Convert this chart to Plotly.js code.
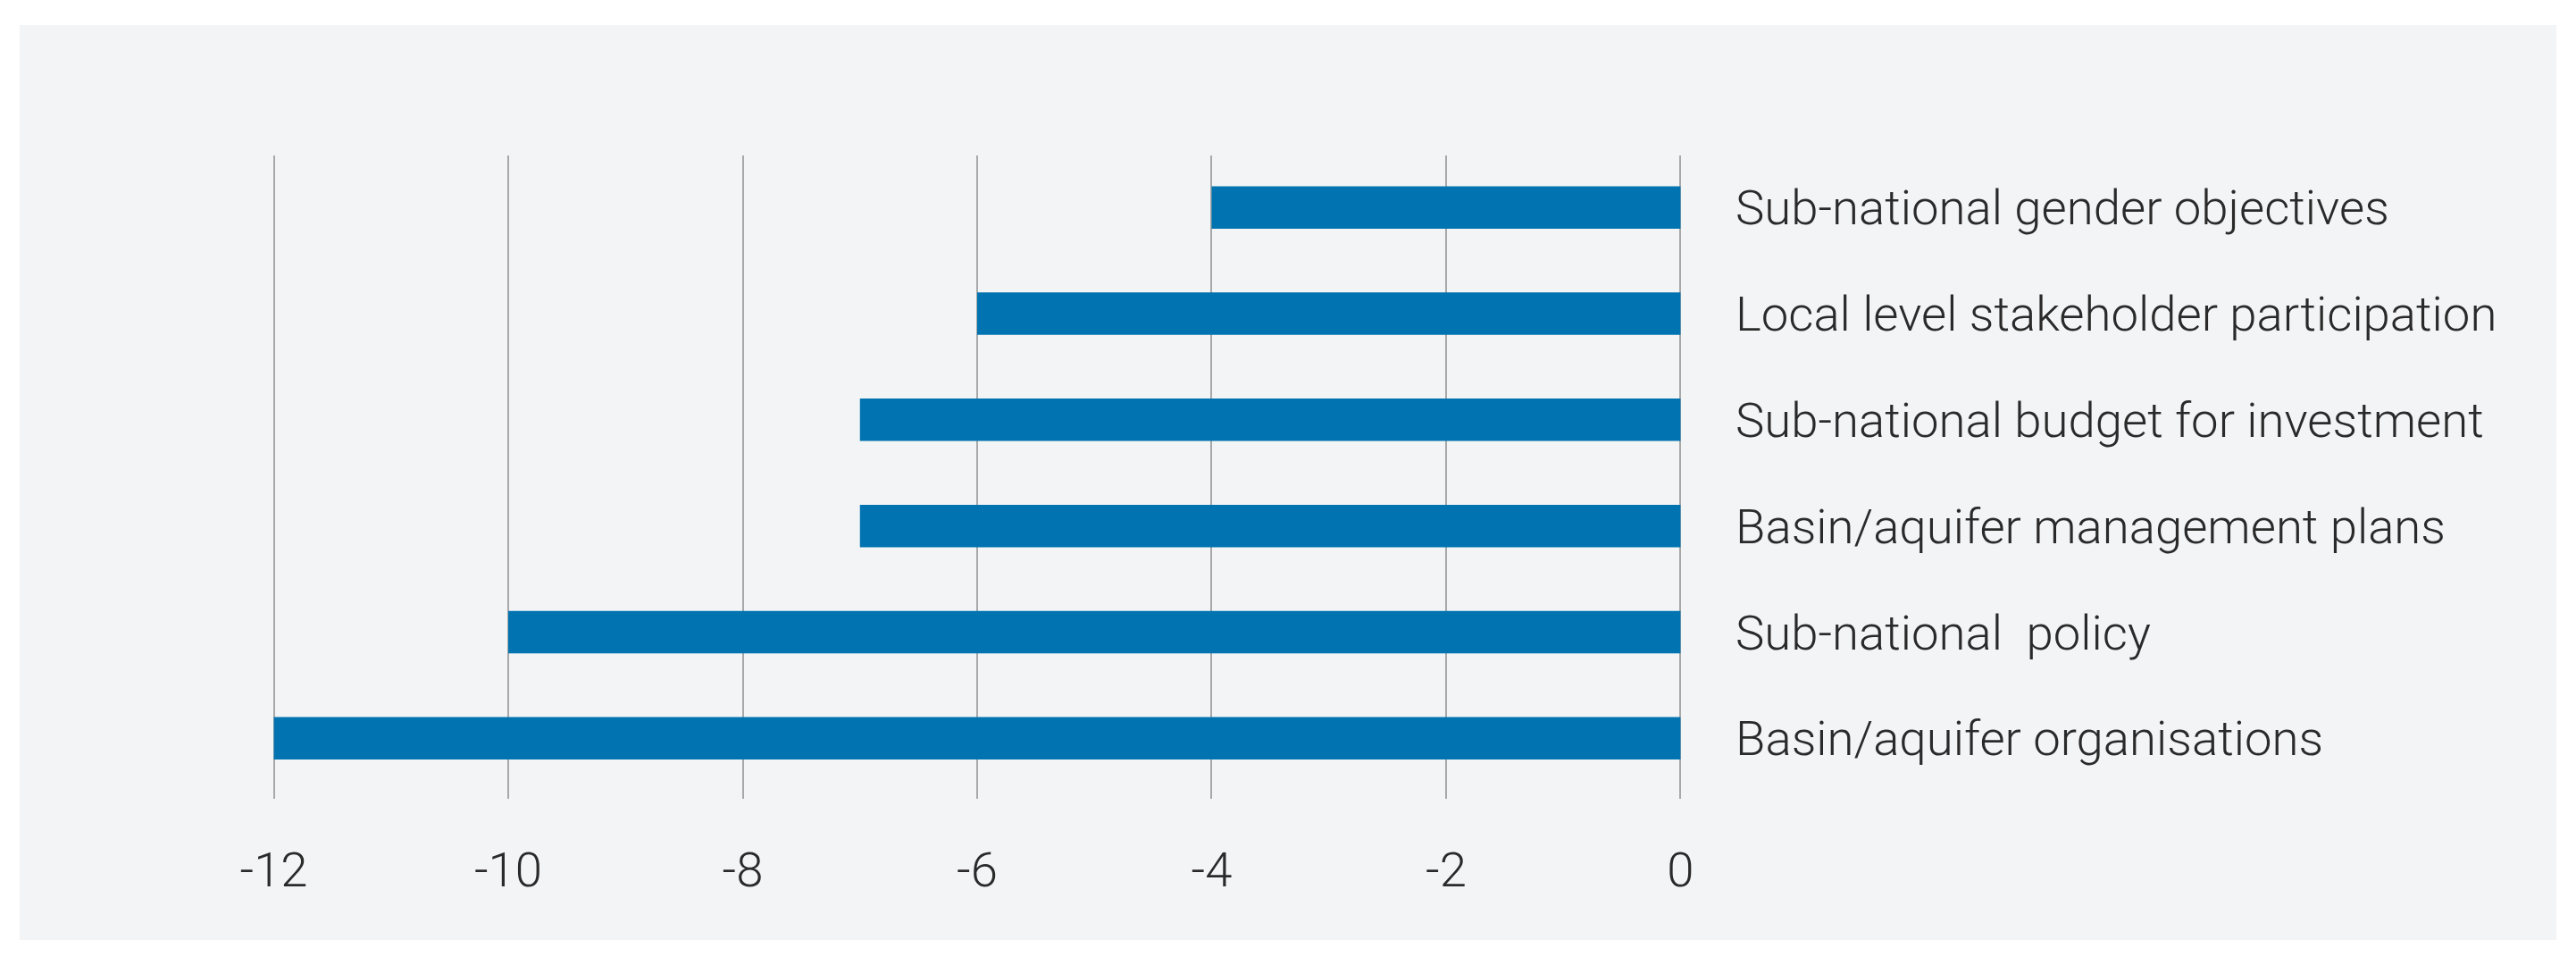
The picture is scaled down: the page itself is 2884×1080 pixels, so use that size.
<!DOCTYPE html>
<html>
<head>
<meta charset="utf-8">
<script src="https://cdn.plot.ly/plotly-3.0.1.min.js"></script>
<style>
  html, body { margin: 0; padding: 0; background: #ffffff; }
  #chart { position: absolute; left: 22px; top: 28px; width: 2840px; height: 1024px; }
</style>
</head>
<body>
<div id="chart"></div>
<script>
// categories listed bottom to top, as plotly draws them
const categories = [
  'Basin/aquifer organisations',
  'Sub-national\u00a0 policy',
  'Basin/aquifer management plans',
  'Sub-national budget for investment',
  'Local level stakeholder participation',
  'Sub-national gender objectives',
];
const values = [-12, -10, -7, -7, -6, -4];
const xTicks = [-12, -10, -8, -6, -4, -2, 0];
const xTickLabels = ['-12', '-10', '-8', '-6', '-4', '-2', '0'];

const trace = {
  type: 'bar',
  orientation: 'h',
  x: values,
  y: categories,
  marker: { color: '#0073b0' },
  hoverinfo: 'x+y',
};

const layout = {
  width: 2840,
  height: 1024,
  paper_bgcolor: '#f3f4f6',
  plot_bgcolor: '#f3f4f6',
  margin: { l: 278, r: 974, t: 146, b: 158 },
  showlegend: false,
  bargap: 0.6,
  font: { family: 'Roboto, sans-serif', size: 54.5, weight: 300, color: '#2a2a2a' },
  xaxis: {
    range: [-12.05, 0.05],
    tickvals: xTicks,
    ticktext: xTickLabels,
    showgrid: true,
    gridcolor: '#a8a8a8',
    gridwidth: 2,
    zeroline: false,
    showline: false,
    ticks: '',
    ticklabelstandoff: 42,
    fixedrange: true,
  },
  yaxis: {
    type: 'category',
    categoryorder: 'array',
    categoryarray: categories,
    range: [-0.57, 5.49],
    side: 'right',
    showgrid: false,
    zeroline: false,
    showline: false,
    ticks: '',
    ticklabelstandoff: 54,
    fixedrange: true,
  },
};

Plotly.newPlot('chart', [trace], layout, { displayModeBar: false, staticPlot: true });
</script>
</body>
</html>
